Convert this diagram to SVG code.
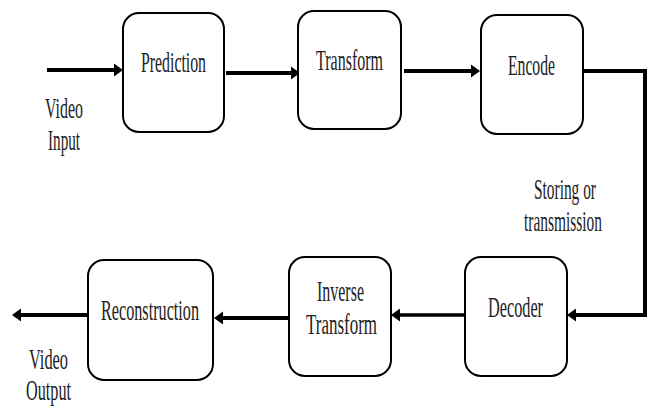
<svg xmlns="http://www.w3.org/2000/svg" width="649" height="406" viewBox="0 0 649 406">
<defs>
<style>
.box{fill:#fff;stroke:#000;stroke-width:2}
.t{font-family:"Liberation Serif","Times New Roman",serif;font-size:30px;fill:#222}
.c{fill:none;stroke:#000;stroke-width:4}
.c3{fill:none;stroke:#000;stroke-width:3.5}
</style>
<marker id="ah" markerUnits="userSpaceOnUse" markerWidth="12" markerHeight="14" viewBox="0 -7 10 14" refX="0" refY="0" orient="auto">
<path d="M0,-6.5 L9,0 L0,6.5 z" fill="#000"/>
</marker>
</defs>
<rect width="649" height="406" fill="#fff"/>
<g id="connectors">
<path class="c" d="M47,70 L114,70" marker-end="url(#ah)"/>
<path class="c" d="M226,73 L291,73" marker-end="url(#ah)"/>
<path class="c" d="M404,71 L471,71" marker-end="url(#ah)"/>
<path class="c" d="M583,71 L645,71 L645,315 L576,315" marker-end="url(#ah)"/>
<path class="c3" d="M465,315 L400,315" marker-end="url(#ah)"/>
<path class="c" d="M289,318 L223,318" marker-end="url(#ah)"/>
<path class="c" d="M88,315 L21,315" marker-end="url(#ah)"/>
</g>
<g id="prediction"><rect class="box" x="123" y="13" width="101" height="119" rx="16"/><text class="t" x="141" y="72" textLength="65" lengthAdjust="spacingAndGlyphs">Prediction</text></g>
<g id="transform"><rect class="box" x="298" y="11" width="103" height="118" rx="16"/><text class="t" x="316" y="70" textLength="67" lengthAdjust="spacingAndGlyphs">Transform</text></g>
<g id="encode"><rect class="box" x="481" y="15" width="102" height="119" rx="16"/><text class="t" x="508" y="75" textLength="47" lengthAdjust="spacingAndGlyphs">Encode</text></g>
<g id="decoder"><rect class="box" x="465" y="257" width="102" height="119" rx="16"/><text class="t" x="488" y="317" textLength="55" lengthAdjust="spacingAndGlyphs">Decoder</text></g>
<g id="inverse-transform"><rect class="box" x="289" y="257" width="102" height="119" rx="16"/><text class="t" x="317" y="301" textLength="47" lengthAdjust="spacingAndGlyphs">Inverse</text><text class="t" x="306" y="334" textLength="71" lengthAdjust="spacingAndGlyphs">Transform</text></g>
<g id="reconstruction"><rect class="box" x="88" y="260" width="125" height="120" rx="16"/><text class="t" x="101" y="320" textLength="98" lengthAdjust="spacingAndGlyphs">Reconstruction</text></g>
<g id="labels">
<text class="t" x="45" y="118" textLength="38" lengthAdjust="spacingAndGlyphs">Video</text>
<text class="t" x="48" y="150" textLength="32" lengthAdjust="spacingAndGlyphs">Input</text>
<text class="t" transform="translate(534,199) scale(0.513,1)">Storing or</text>
<text class="t" transform="translate(524,231) scale(0.514,1)">transmission</text>
<text class="t" x="29" y="369" textLength="39" lengthAdjust="spacingAndGlyphs">Video</text>
<text class="t" x="26" y="400" textLength="45" lengthAdjust="spacingAndGlyphs">Output</text>
</g>
</svg>
